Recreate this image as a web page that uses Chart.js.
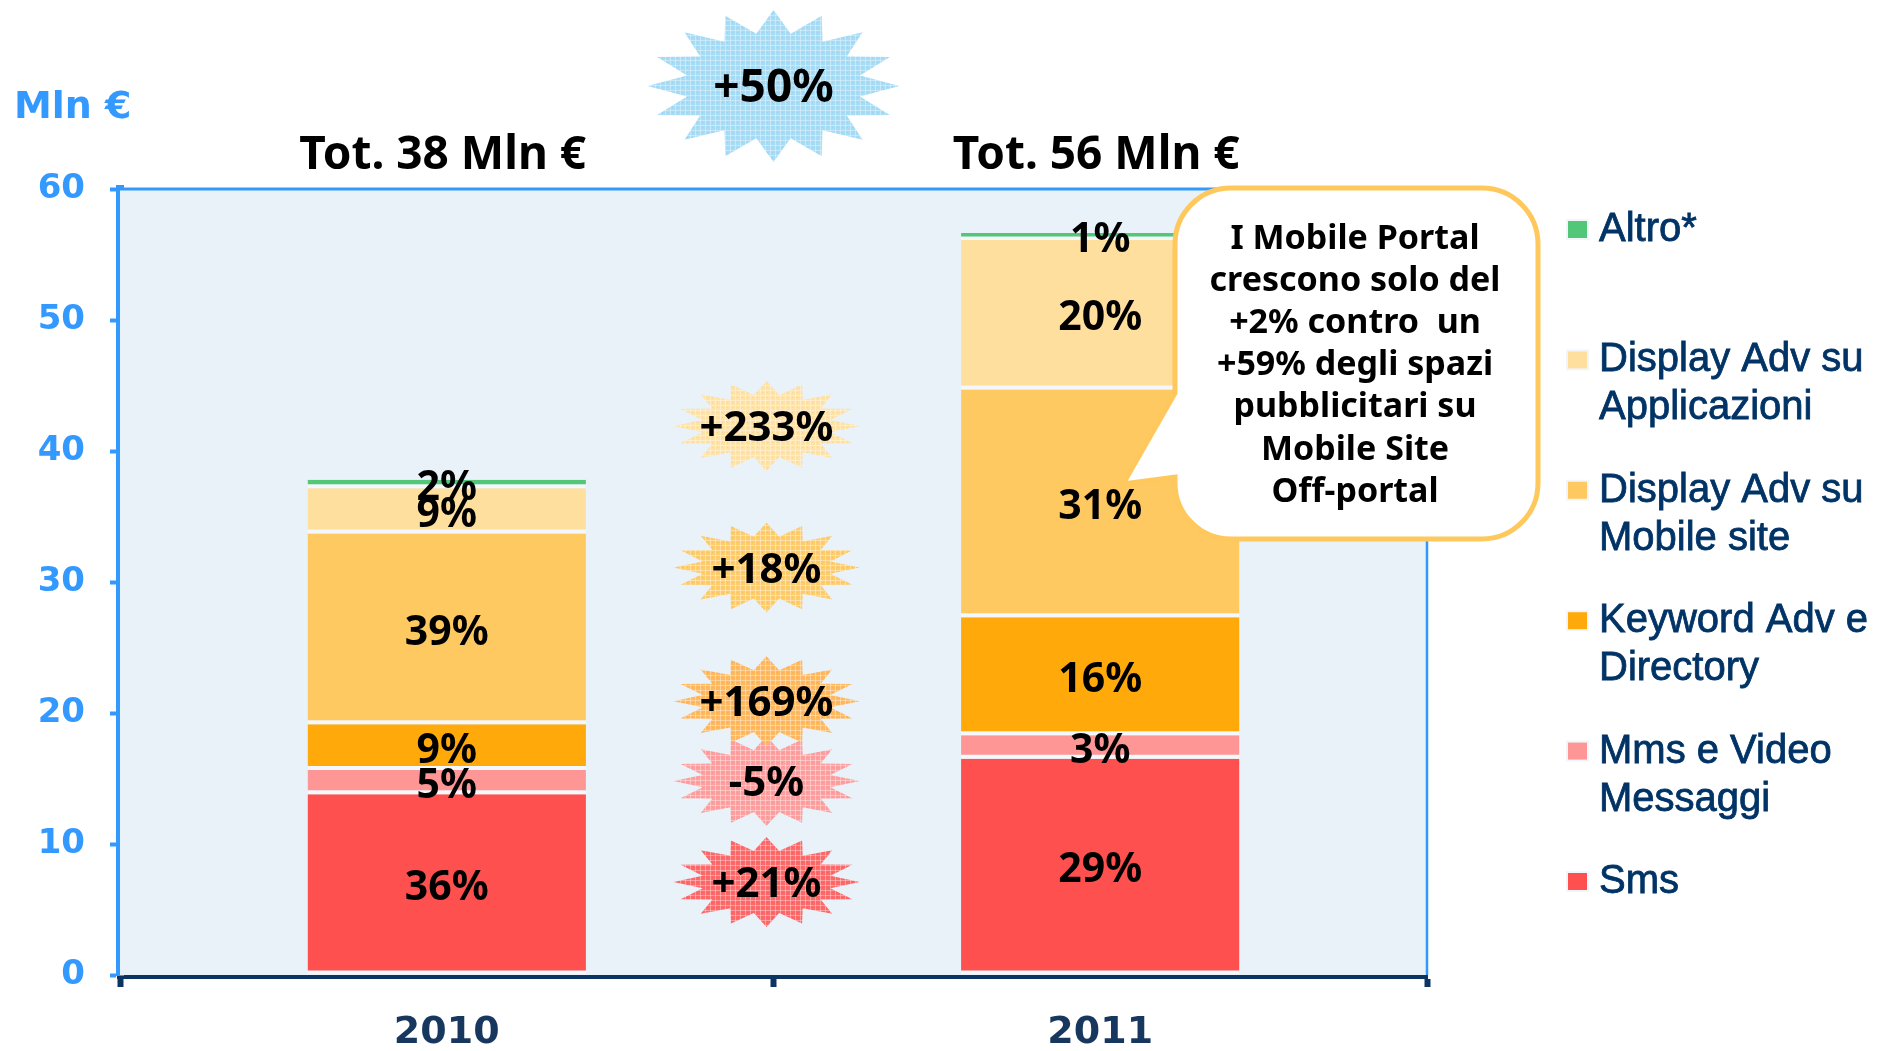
<!DOCTYPE html>
<html>
<head>
<meta charset="utf-8">
<script src="https://cdn.jsdelivr.net/npm/chart.js@4.4.1/dist/chart.umd.min.js"></script>
<style>
  html, body { margin: 0; padding: 0; background: #fff; }
  #wrap { width: 1877px; height: 1051px; }
</style>
</head>
<body>
<div id="wrap"><canvas id="grafico" width="1877" height="1051"></canvas></div>
<script>
// Dati (Mln €)
const anni = ['2010', '2011'];
const totali = ['Tot. 38 Mln €', 'Tot. 56 Mln €'];

const sms = [13.8, 16.5];
const mms = [1.85, 1.8];
const keyword = [3.5, 9.0];
const displayMobile = [14.55, 17.4];
const displayApp = [3.45, 11.4];
const altro = [0.65, 0.55];

// quote percentuali dentro le barre
const pctSms = ['36%', '29%'];
const pctMms = ['5%', '3%'];
const pctKeyword = ['9%', '16%'];
const pctDisplayMobile = ['39%', '31%'];
const pctDisplayApp = ['9%', '20%'];
const pctAltro = ['2%', '1%'];

// crescita 2010 -> 2011 (dal basso verso l'alto)
const crescite = ['+21%', '-5%', '+169%', '+18%', '+233%'];
const quotaCrescite = [7.1, 14.8, 20.9, 31.1, 41.9]; // altezza delle stelle in Mln €
const coloriCrescite = ['#FF6868', '#FF9E9E', '#FFB85E', '#FFCC6C', '#FFE2A6'];
const crescitaTotale = '+50%';

const testoFumetto = [
  'I Mobile Portal',
  'crescono solo del',
  '+2% contro  un',
  '+59% degli spazi',
  'pubblicitari su',
  'Mobile Site',
  'Off-portal'
];

const serie = [
  { label: ['Sms'], data: sms, pct: pctSms, color: '#FF5050' },
  { label: ['Mms e Video', 'Messaggi'], data: mms, pct: pctMms, color: '#FF9696' },
  { label: ['Keyword Adv e', 'Directory'], data: keyword, pct: pctKeyword, color: '#FFAA0A' },
  { label: ['Display Adv su', 'Mobile site'], data: displayMobile, pct: pctDisplayMobile, color: '#FFC962' },
  { label: ['Display Adv su', 'Applicazioni'], data: displayApp, pct: pctDisplayApp, color: '#FFDF9D' },
  { label: ['Altro*'], data: altro, pct: pctAltro, color: '#52C777' }
];

const FONT_TAHOMA = '"Noto Sans", "Open Sans", sans-serif';
const FONT_VERDANA = '"DejaVu Sans", Verdana, sans-serif';

// trama a griglia per le stelle
function trama(ctx, colore) {
  const c = document.createElement('canvas');
  c.width = 5; c.height = 5;
  const g = c.getContext('2d');
  g.fillStyle = colore;
  g.fillRect(0, 0, 5, 5);
  g.fillStyle = 'rgba(255,255,255,0.35)';
  g.fillRect(0, 0, 5, 1);
  g.fillRect(0, 0, 1, 5);
  g.fillStyle = 'rgba(0,0,0,0.05)';
  g.fillRect(2, 2, 1, 1);
  return ctx.createPattern(c, 'repeat');
}

function stella(ctx, cx, cy, rx, ry, colore) {
  const punte = 16;
  ctx.beginPath();
  for (let i = 0; i < punte * 2; i++) {
    const a = -Math.PI / 2 + i * Math.PI / punte;
    const k = i % 2 === 0 ? 1 : 0.7;
    const px = cx + Math.cos(a) * rx * k;
    const py = cy + Math.sin(a) * ry * k;
    if (i === 0) ctx.moveTo(px, py); else ctx.lineTo(px, py);
  }
  ctx.closePath();
  ctx.fillStyle = trama(ctx, colore);
  ctx.fill();
}

function fumetto(ctx) {
  const x0 = 1175, y0 = 188, x1 = 1538, y1 = 539, r = 56;
  ctx.beginPath();
  ctx.moveTo(x0 + r, y0);
  ctx.arcTo(x1, y0, x1, y1, r);
  ctx.arcTo(x1, y1, x0, y1, r);
  ctx.arcTo(x0, y1, x0, y0, r);
  ctx.lineTo(x0, 477);
  ctx.lineTo(1123, 484);
  ctx.lineTo(x0, 393);
  ctx.arcTo(x0, y0, x1, y0, r);
  ctx.closePath();
  ctx.fillStyle = '#FFFFFF';
  ctx.fill();
  ctx.lineWidth = 5;
  ctx.strokeStyle = '#FFC85C';
  ctx.stroke();

  ctx.fillStyle = '#000';
  ctx.font = 'bold 34px ' + FONT_TAHOMA;
  ctx.textAlign = 'center';
  ctx.textBaseline = 'middle';
  testoFumetto.forEach((riga, i) => {
    ctx.fillText(riga, 1355, 239 + i * 42.2);
  });
}

const sfondo = {
  id: 'sfondo',
  beforeDatasetsDraw(chart) {
    const { ctx, chartArea: a } = chart;
    ctx.save();
    ctx.fillStyle = '#E9F1F9';
    ctx.fillRect(a.left, a.top, a.right - a.left, a.bottom - a.top);
    ctx.strokeStyle = '#3399FF';
    ctx.lineWidth = 3;
    ctx.beginPath();
    ctx.moveTo(a.left, a.top);
    ctx.lineTo(a.right, a.top);
    ctx.stroke();
    ctx.lineWidth = 2.5;
    ctx.beginPath();
    ctx.moveTo(a.right, a.top);
    ctx.lineTo(a.right, a.bottom);
    ctx.stroke();
    ctx.restore();
  }
};

const etichette = {
  id: 'etichette',
  afterDatasetsDraw(chart) {
    const ctx = chart.ctx;
    ctx.save();
    ctx.fillStyle = '#000';
    ctx.font = 'bold 41px ' + FONT_TAHOMA;
    ctx.textAlign = 'center';
    ctx.textBaseline = 'middle';
    chart.data.datasets.forEach((ds, d) => {
      const meta = chart.getDatasetMeta(d);
      meta.data.forEach((bar, i) => {
        ctx.fillText(serie[d].pct[i], bar.x, (bar.y + bar.base) / 2 + 4);
      });
    });
    ctx.restore();
  }
};

const annotazioni = {
  id: 'annotazioni',
  afterDraw(chart) {
    const { ctx, chartArea: a } = chart;
    const xs = chart.scales.x, ys = chart.scales.y;
    const xa = xs.getPixelForValue(0), xb = xs.getPixelForValue(1);
    ctx.save();

    // unità di misura
    ctx.fillStyle = '#3399FF';
    ctx.font = 'bold 38px ' + FONT_VERDANA;
    ctx.textAlign = 'left';
    ctx.textBaseline = 'middle';
    ctx.fillText('Mln €', 14, 108);

    // totali sopra le barre
    ctx.fillStyle = '#000';
    ctx.font = 'bold 46px ' + FONT_TAHOMA;
    ctx.textAlign = 'center';
    totali.forEach((t, i) => {
      ctx.fillText(t, xs.getPixelForValue(i) - 4, a.top - 33);
    });

    // stelle di crescita
    const xm = (xa + xb) / 2;
    stella(ctx, xm, a.top - 103, 126, 76, '#A6DCF6');
    ctx.fillStyle = '#000';
    ctx.font = 'bold 46px ' + FONT_TAHOMA;
    ctx.fillText(crescitaTotale, xm, a.top - 100);

    crescite.forEach((c, i) => {
      const y = ys.getPixelForValue(quotaCrescite[i]);
      stella(ctx, xm - 7, y, 93, 45, coloriCrescite[i]);
      ctx.fillStyle = '#000';
      ctx.font = 'bold 42px ' + FONT_TAHOMA;
      ctx.fillText(c, xm - 7, y + 3);
    });

    fumetto(ctx);

    // legenda
    ctx.textAlign = 'left';
    ctx.font = '40px "Liberation Sans", Arial, sans-serif';
    ctx.lineWidth = 0.8;
    const voci = serie.slice().reverse();
    voci.forEach((s, i) => {
      const y = 230 + i * 130.4;
      ctx.fillStyle = '#F2F6FA';
      ctx.fillRect(1566, y - 11, 23, 21);
      ctx.fillStyle = s.color;
      ctx.fillRect(1568, y - 9, 19, 17);
      ctx.fillStyle = '#003366';
      ctx.strokeStyle = '#003366';
      s.label.forEach((riga, k) => {
        ctx.fillText(riga, 1599, y + k * 48);
        ctx.strokeText(riga, 1599, y + k * 48);
      });
    });
    ctx.restore();
  }
};

new Chart(document.getElementById('grafico'), {
  type: 'bar',
  data: {
    labels: anni,
    datasets: serie.map(s => ({
      label: s.label.join(' '),
      data: s.data,
      backgroundColor: s.color,
      borderColor: '#F4F8FC',
      borderWidth: { top: 0, left: 0, right: 0, bottom: 4 },
      borderSkipped: false,
      categoryPercentage: 1,
      barPercentage: 0.426
    }))
  },
  options: {
    responsive: false,
    animation: false,
    devicePixelRatio: 1,
    layout: { padding: { top: 189, right: 450, left: 0, bottom: 0 } },
    plugins: { legend: { display: false }, tooltip: { enabled: false } },
    scales: {
      x: {
        stacked: true,
        afterFit(scale) { scale.height = 76; },
        grid: { drawOnChartArea: false, offset: true, tickLength: 12, tickWidth: 6, tickColor: '#0B3462' },
        border: { color: '#0B3462', width: 7 },
        ticks: { color: '#17375E', font: { family: FONT_VERDANA, weight: 'bold', size: 38 }, padding: 23 }
      },
      y: {
        stacked: true,
        min: 0,
        max: 60,
        afterFit(scale) { scale.width = 120; },
        grid: { drawOnChartArea: false, tickLength: 10, tickWidth: 4, tickColor: '#3399FF' },
        border: { color: '#3399FF', width: 8 },
        ticks: { stepSize: 10, color: '#3399FF', font: { family: FONT_VERDANA, weight: 'bold', size: 34 }, padding: 25 }
      }
    }
  },
  plugins: [sfondo, etichette, annotazioni]
});
</script>
</body>
</html>
